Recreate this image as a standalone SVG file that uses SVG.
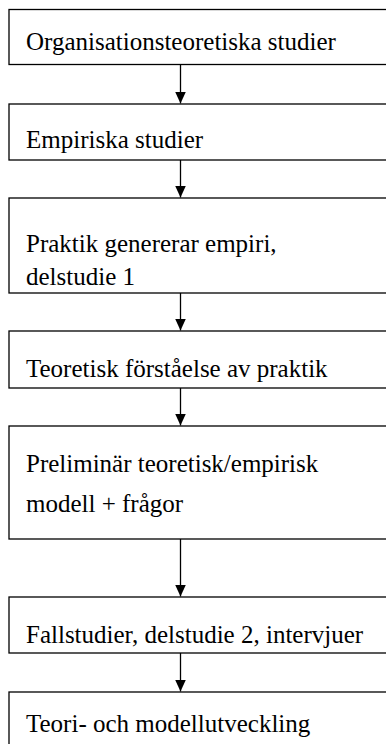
<svg xmlns="http://www.w3.org/2000/svg" width="386" height="744" viewBox="0 0 386 744">
<style>
.box{fill:#fff;stroke:#000;stroke-width:1.3}
.t{font-family:'Liberation Serif','Times New Roman',serif;font-size:25px;fill:#000}
.c{stroke:#000;stroke-width:1.3;fill:none}
</style>
<defs>
<marker id="ah" viewBox="0 0 12 11" refX="12" refY="5.5" markerWidth="12" markerHeight="11" markerUnits="userSpaceOnUse" orient="auto">
<path d="M0,0 L12,5.5 L0,11 Z" fill="#000"/>
</marker>
</defs>
<rect width="386" height="744" fill="#fff"/>
<g id="n1"><rect class="box" x="9" y="9.5" width="400" height="55"/><text class="t" x="26" y="50">Organisationsteoretiska studier</text></g>
<g id="n2"><rect class="box" x="9" y="104" width="400" height="56"/><text class="t" x="26" y="148">Empiriska studier</text></g>
<g id="n3"><rect class="box" x="9" y="198" width="400" height="95"/><text class="t" x="26" y="252">Praktik genererar empiri,</text><text class="t" x="26" y="285">delstudie 1</text></g>
<g id="n4"><rect class="box" x="9" y="331" width="400" height="57"/><text class="t" x="26" y="377">Teoretisk förståelse av praktik</text></g>
<g id="n5"><rect class="box" x="9" y="426" width="400" height="113"/><text class="t" x="26" y="472">Preliminär teoretisk/empirisk</text><text class="t" x="26" y="512">modell + frågor</text></g>
<g id="n6"><rect class="box" x="9" y="597" width="400" height="56"/><text class="t" x="26" y="643">Fallstudier, delstudie 2, intervjuer</text></g>
<g id="n7"><rect class="box" x="9" y="692" width="400" height="80"/><text class="t" x="26" y="732">Teori- och modellutveckling</text></g>
<g id="connectors">
<line class="c" x1="180.5" y1="64.5" x2="180.5" y2="103.5" marker-end="url(#ah)"/>
<line class="c" x1="180.5" y1="160" x2="180.5" y2="197.5" marker-end="url(#ah)"/>
<line class="c" x1="180.5" y1="293" x2="180.5" y2="330.5" marker-end="url(#ah)"/>
<line class="c" x1="180.5" y1="388" x2="180.5" y2="425.5" marker-end="url(#ah)"/>
<line class="c" x1="180.5" y1="539" x2="180.5" y2="596.5" marker-end="url(#ah)"/>
<line class="c" x1="180.5" y1="653" x2="180.5" y2="691.5" marker-end="url(#ah)"/>
</g>
</svg>
